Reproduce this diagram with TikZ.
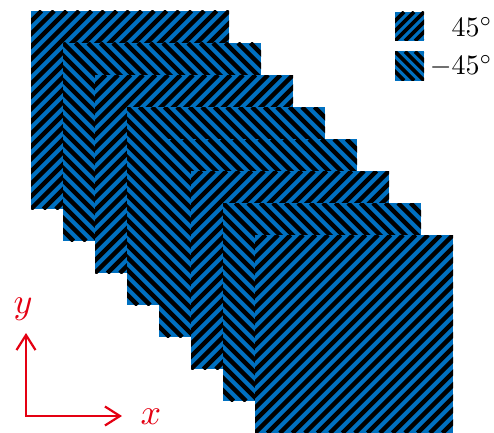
\documentclass[tikz,border=0pt]{standalone}
\usetikzlibrary{arrows.meta}
\definecolor{plyblue}{RGB}{0,112,192}
\definecolor{axisred}{RGB}{228,0,18}
\tikzset{
  ply/.style={fill=plyblue},
  stripe/.style={black,line width=4.4pt},
  axis/.style={axisred,line width=2.2pt,line join=miter,
    {Straight Barb[length=15pt,width=19pt]}-{Straight Barb[length=15pt,width=19pt]}},
  axlabel/.style={text=axisred,scale=3.6,inner sep=0pt},
  legtext/.style={anchor=east,scale=2.8,inner sep=0pt},
}
\begin{document}
\begin{tikzpicture}[x=1pt,y=1pt]
\useasboundingbox (0,0) rectangle (494,432);
\clip (0,0) rectangle (494,432);
% plies, back to front
\foreach \k/\o in {0/1,1/-1,2/1,3/-1,4/-1,5/1,6/-1,7/1}{
\begin{scope}[shift={(130+32*\k,322-32*\k)},yscale=\o]
\clip (-99,-99) rectangle (99,99);
\fill[ply] (-99,-99) rectangle (99,99);
\foreach \i in {-16,...,16}
  \draw[stripe] (\i*12.5-99,-99) -- ++(198,198);
\end{scope}}
% legend
\foreach \yc/\o in {405.5/1,366/-1}{
\begin{scope}[shift={(409.5,\yc)},yscale=\o]
\clip (-14.5,-14.5) rectangle (14.5,14.5);
\fill[ply] (-14.5,-14.5) rectangle (14.5,14.5);
\foreach \i in {-4,...,4}
  \draw[stripe,line width=3.6pt] (\i*10-14.5,-14.5) -- ++(29,29);
\end{scope}}
\node[legtext] (lab45) at (493,405) {$45^\circ$};
\node[legtext] (labm45) at (493,366) {$-45^\circ$};
% axes
\coordinate (o) at (26,16);
\coordinate (xend) at (122,16);
\coordinate (yend) at (26,99);
\draw[axis] (yend) -- (o) -- (xend);
\node[axlabel] (xlab) at (151,15) {$x$};
\node[axlabel] (ylab) at (23,123) {$y$};
\end{tikzpicture}
\end{document}
